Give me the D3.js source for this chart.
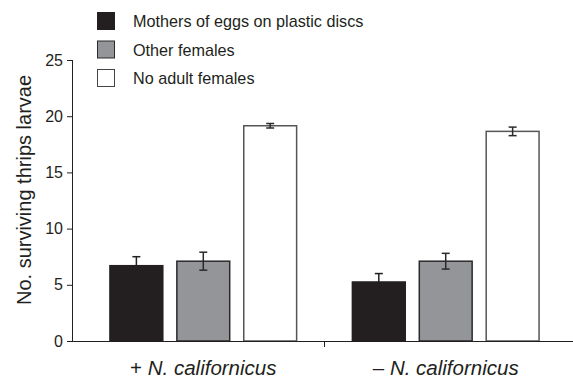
<!DOCTYPE html>
<html><head><meta charset="utf-8">
<script src="https://cdn.jsdelivr.net/npm/d3@7"></script>
<style>body{margin:0;background:#fff}svg{display:block;font-family:"Liberation Sans",Arial,sans-serif}</style>
</head><body><svg id="c" width="573" height="379"></svg>
<script>
const groups = ["+", "–"];
const seriesNames = ["Mothers of eggs on plastic discs", "Other females", "No adult females"];
const means = [[6.7, 7.1, 19.15], [5.25, 7.1, 18.65]];
const errors = [[0.8, 0.8, 0.2], [0.75, 0.7, 0.38]];
const yTicks = [0, 5, 10, 15, 20, 25];
const fills = ["#231f20", "#939598", "#ffffff"];
const strokes = ["#231f20", "#2a2a2a", "#555555"];

const svg = d3.select("#c");
const y = d3.scaleLinear().domain([0, 25]).range([341, 60]);
const x0 = d3.scaleBand().domain(groups).range([85.7, 563.3]).paddingInner(0.23).paddingOuter(0.1);
const x1 = d3.scaleBand().domain(d3.range(3)).range([0, x0.bandwidth()]).paddingInner(0.21);

// Y axis
const yAxis = d3.axisLeft(y).tickValues(yTicks).tickSize(6).tickPadding(4);
const gy = svg.append("g").attr("transform", "translate(73,0)").call(yAxis);
gy.select(".domain").attr("stroke", "#231f20").attr("d", "M-0.5,60V341");
gy.selectAll(".tick line").attr("stroke", "#231f20");
gy.selectAll(".tick text").attr("font-size", 16).attr("fill", "#231f20").attr("font-family", "Liberation Sans, Arial, sans-serif");

// bars
const g = svg.append("g");
groups.forEach((grp, gi) => {
  means[gi].forEach((v, si) => {
    const bx = x0(grp) + x1(si);
    g.append("rect").attr("x", bx).attr("y", y(v)).attr("width", x1.bandwidth()).attr("height", y(0) - y(v))
      .attr("fill", fills[si]).attr("stroke", strokes[si]).attr("stroke-width", 1.5);
    const cx = bx + x1.bandwidth() / 2;
    const e = errors[gi][si];
    const ec = si === 0 ? "#231f20" : "#2a2a2a";
    g.append("line").attr("x1", cx).attr("x2", cx).attr("y1", y(v + e)).attr("y2", y(v - e)).attr("stroke", ec).attr("stroke-width", 1.5);
    [v + e, v - e].forEach(t => g.append("line").attr("x1", cx - 4).attr("x2", cx + 4).attr("y1", y(t)).attr("y2", y(t)).attr("stroke", ec).attr("stroke-width", 1.5));
  });
});

// X axis
svg.append("line").attr("x1", 72.5).attr("x2", 573).attr("y1", 341.5).attr("y2", 341.5).attr("stroke", "#231f20").attr("stroke-width", 1);
const midX = (x0(groups[0]) + x0.bandwidth() + x0(groups[1])) / 2;
svg.append("line").attr("x1", midX).attr("x2", midX).attr("y1", 341.5).attr("y2", 347).attr("stroke", "#231f20");

groups.forEach(grp => {
  const t = svg.append("text").attr("x", x0(grp) + x0.bandwidth() / 2).attr("y", 375).attr("text-anchor", "middle")
    .attr("font-size", 20.5).attr("fill", "#231f20");
  t.append("tspan").text(grp + " ");
  t.append("tspan").attr("font-style", "italic").text("N. californicus");
});

// Y label
svg.append("text").attr("transform", "translate(31,190) rotate(-90)").attr("text-anchor", "middle")
  .attr("font-size", 20).attr("fill", "#231f20").text("No. surviving thrips larvae");

// legend
const leg = svg.append("g");
seriesNames.forEach((n, i) => {
  const ly = 12 + i * 28.5;
  leg.append("rect").attr("x", 97.5).attr("y", ly + 0.5).attr("width", 17).attr("height", 17)
    .attr("fill", fills[i]).attr("stroke", i === 2 ? "#444" : strokes[i]).attr("stroke-width", 1);
  leg.append("text").attr("x", 133).attr("y", ly + 15).attr("font-size", 16.2).attr("fill", "#231f20").text(n);
});
</script></body></html>
